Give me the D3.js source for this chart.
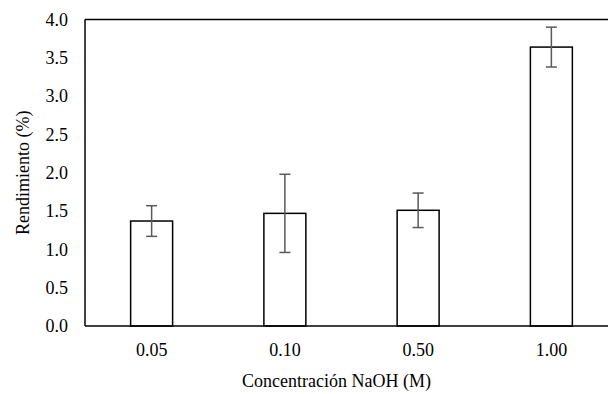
<!DOCTYPE html>
<html>
<head>
<meta charset="utf-8">
<script src="https://cdn.jsdelivr.net/npm/d3@7"></script>
<style>
  body { margin: 0; background: #fff; }
  svg, svg text { font-family: "Liberation Serif", "Times New Roman", serif; }
</style>
</head>
<body>
<svg id="chart"></svg>
<script>
const categories = ["0.05", "0.10", "0.50", "1.00"];
const rendimiento = [1.37, 1.47, 1.51, 3.64];
const errores = [0.2, 0.51, 0.225, 0.26];
const yTicks = [0, 0.5, 1.0, 1.5, 2.0, 2.5, 3.0, 3.5, 4.0];

const width = 608, height = 394;
const margin = { top: 19.5, left: 85, bottom: 68 };
const plotW = 533; // plot area runs past the right edge
const plotH = height - margin.top - margin.bottom;

const svg = d3.select("#chart").attr("width", width).attr("height", height);
const g = svg.append("g").attr("transform", `translate(${margin.left},${margin.top})`);

const x = d3.scaleBand().domain(categories).range([0, plotW]).paddingInner(0.685).paddingOuter(0.3425);
const y = d3.scaleLinear().domain([0, 4]).range([plotH, 0]);

const data = categories.map((c, i) => ({ c, v: rendimiento[i], e: errores[i] }));

// frame: top and left
g.append("line").attr("x1", 0).attr("x2", plotW).attr("y1", 0).attr("y2", 0)
  .attr("stroke", "#000").attr("stroke-width", 1.5);
g.append("line").attr("x1", 0).attr("x2", 0).attr("y1", 0).attr("y2", plotH)
  .attr("stroke", "#000").attr("stroke-width", 1.5);

g.selectAll("rect.bar").data(data).enter().append("rect")
  .attr("class", "bar")
  .attr("x", d => x(d.c))
  .attr("y", d => y(d.v))
  .attr("width", x.bandwidth())
  .attr("height", d => y(0) - y(d.v))
  .attr("fill", "#fff").attr("stroke", "#000").attr("stroke-width", 1.5);

// error bars
const eb = g.selectAll("g.err").data(data).enter().append("g").attr("class", "err")
  .attr("stroke", "#595959").attr("stroke-width", 1.5);
const cx = d => x(d.c) + x.bandwidth() / 2;
eb.append("line").attr("x1", cx).attr("x2", cx)
  .attr("y1", d => y(d.v + d.e)).attr("y2", d => y(d.v - d.e));
eb.append("line").attr("x1", d => cx(d) - 5.5).attr("x2", d => cx(d) + 5.5)
  .attr("y1", d => y(d.v + d.e)).attr("y2", d => y(d.v + d.e));
eb.append("line").attr("x1", d => cx(d) - 5.5).attr("x2", d => cx(d) + 5.5)
  .attr("y1", d => y(d.v - d.e)).attr("y2", d => y(d.v - d.e));

// bottom axis
const xAxis = g.append("g").attr("transform", `translate(0,${plotH})`)
  .call(d3.axisBottom(x).tickSize(0).tickPadding(17));
xAxis.select(".domain").attr("stroke", "#000").attr("stroke-width", 1.5).attr("d", `M0,0H${plotW}`);
xAxis.selectAll("text").attr("fill", "#000").style("font-size", "18px");

// left axis labels
const yAxis = g.append("g")
  .call(d3.axisLeft(y).tickValues(yTicks).tickFormat(d3.format(".1f")).tickSize(0).tickPadding(17));
yAxis.select(".domain").remove();
yAxis.selectAll("text").attr("fill", "#000").style("font-size", "18px");

svg.append("text")
  .attr("x", margin.left + plotW / 2 - 15).attr("y", 387)
  .attr("text-anchor", "middle").style("font-size", "18px")
  .text("Concentración NaOH (M)");

svg.append("text")
  .attr("transform", `translate(29,${margin.top + plotH / 2}) rotate(-90)`)
  .attr("text-anchor", "middle").style("font-size", "18px")
  .text("Rendimiento (%)");
</script>
</body>
</html>
